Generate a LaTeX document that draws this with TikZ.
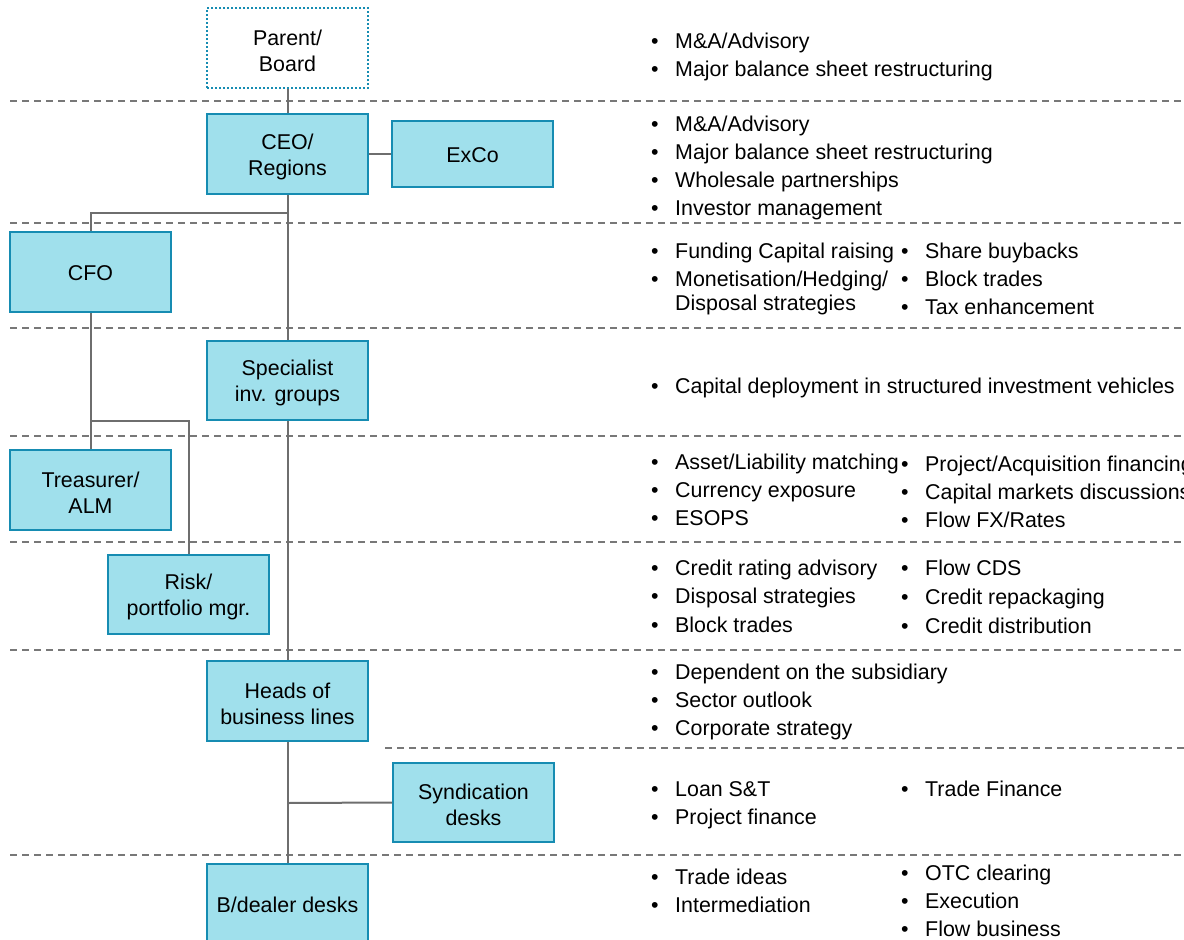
\documentclass[tikz,border=0pt]{standalone}
\usepackage{fontspec}
\setmainfont{Liberation Sans}
\definecolor{boxfill}{RGB}{160,224,236}
\definecolor{boxline}{RGB}{22,140,178}
\definecolor{conncol}{RGB}{110,110,110}
\definecolor{sepcol}{RGB}{120,120,120}
\newcommand{\itembul}{\llap{\textbullet\hspace{16.5pt}}}
\begin{document}
\begin{tikzpicture}[x=1pt,y=-1pt,
  box/.style={draw=boxline,fill=boxfill,line width=2pt,minimum width=161pt,minimum height=80pt,
    inner sep=0pt,align=center,font=\fontsize{21.4}{26}\selectfont},
  btxt/.style={inner sep=0pt,align=center,font=\fontsize{21.4}{26}\selectfont},
  pbox/.style={box,fill=white,dash pattern=on 2pt off 2pt},
  itm/.style={anchor=base west,inner sep=0pt,font=\fontsize{21.4}{28}\selectfont},
  conn/.style={draw=conncol,line width=2pt},
  sep/.style={draw=sepcol,line width=1.8pt,dash pattern=on 7pt off 5pt}]
\useasboundingbox (0,0) rectangle (1184,940);
\clip (0,0) rectangle (1184,940);

% separators
\foreach \yy in {101,223,328,436,542,650,855}{
  \draw[sep] (10,\yy) -- (1184,\yy);
}
\draw[sep] (385,748) -- (1184,748);

% boxes
\node[pbox] (parent) at (287.5,48) {};
\node[btxt] (parentt) at (287.5,50.5) {Parent/\\Board};
\node[box] (ceo) at (287.5,154) {};
\node[btxt] (ceot) at (287.5,156.5) {CEO/\\Regions};
\node[box,minimum height=66pt] (exco) at (472.5,154) {};
\node[btxt] (excot) at (472.5,155.5) {ExCo};
\node[box] (cfo) at (90.5,272) {};
\node[btxt] (cfot) at (90.5,273.5) {CFO};
\node[box,minimum height=79pt] (spec) at (287.5,380.5) {};
\node[btxt] (spect) at (287.5,383) {Specialist\\inv. groups};
\node[box] (treas) at (90.5,490) {};
\node[btxt] (treast) at (90.5,492.5) {Treasurer/\\ALM};
\node[box,minimum height=79pt] (risk) at (188.5,594.5) {};
\node[btxt] (riskt) at (188.5,597) {Risk/\\portfolio mgr.};
\node[box] (heads) at (287.5,701) {};
\node[btxt] (headst) at (287.5,703.5) {Heads of\\business lines};
\node[box,minimum height=79pt] (synd) at (473.5,802.5) {};
\node[btxt] (syndt) at (473.5,805) {Syndication\\desks};
\node[box] (bd) at (287.5,904) {};
\node[btxt] (bdt) at (287.5,905) {B/dealer desks};

% connectors
\coordinate (j1) at (287.5,212.5);
\coordinate (j2) at (90.5,421);
\coordinate (j3) at (287.5,803);
\draw[conn] (parent) -- (ceo);
\draw[conn] (ceo) -- (exco);
\draw[conn] (ceo) -- (spec);
\draw[conn] (j1) -| (cfo);
\draw[conn] (spec) -- (heads);
\draw[conn] (heads) -- (bd);
\draw[conn] (j3) -- (synd.west);
\draw[conn] (cfo) -- (treas);
\draw[conn] (j2) -| (risk);

% text rows
\node[itm] (a1) at (675,48.5) {\itembul M\&A/Advisory};
\node[itm] (a2) at (675,76.5) {\itembul Major balance sheet restructuring};

\node[itm] (b1) at (675,131.5) {\itembul M\&A/Advisory};
\node[itm] (b2) at (675,159.5) {\itembul Major balance sheet restructuring};
\node[itm] (b3) at (675,187.5) {\itembul Wholesale partnerships};
\node[itm] (b4) at (675,215.5) {\itembul Investor management};

\node[itm] (c1) at (675,258.5) {\itembul Funding Capital raising};
\node[itm] (c2) at (675,286.5) {\itembul Monetisation/Hedging/};
\node[itm] (c3) at (675,310.5) {Disposal strategies};
\node[itm] (c4) at (925,258.5) {\itembul Share buybacks};
\node[itm] (c5) at (925,286.5) {\itembul Block trades};
\node[itm] (c6) at (925,314.5) {\itembul Tax enhancement};

\node[itm] (d1) at (675,393.5) {\itembul Capital deployment in structured investment vehicles};

\node[itm] (e1) at (675,469.5) {\itembul Asset/Liability matching};
\node[itm] (e2) at (675,497.5) {\itembul Currency exposure};
\node[itm] (e3) at (675,525.5) {\itembul ESOPS};
\node[itm] (e4) at (925,471.5) {\itembul Project/Acquisition financing};
\node[itm] (e5) at (925,499.5) {\itembul Capital markets discussions};
\node[itm] (e6) at (925,527.5) {\itembul Flow FX/Rates};

\node[itm] (f1) at (675,575.5) {\itembul Credit rating advisory};
\node[itm] (f2) at (675,603.5) {\itembul Disposal strategies};
\node[itm] (f3) at (675,632) {\itembul Block trades};
\node[itm] (f4) at (925,575.5) {\itembul Flow CDS};
\node[itm] (f5) at (925,604.5) {\itembul Credit repackaging};
\node[itm] (f6) at (925,633.5) {\itembul Credit distribution};

\node[itm] (g1) at (675,679.5) {\itembul Dependent on the subsidiary};
\node[itm] (g2) at (675,707.5) {\itembul Sector outlook};
\node[itm] (g3) at (675,735.5) {\itembul Corporate strategy};

\node[itm] (h1) at (675,796.5) {\itembul Loan S\&T};
\node[itm] (h2) at (675,824.5) {\itembul Project finance};
\node[itm] (h3) at (925,796.5) {\itembul Trade Finance};

\node[itm] (i1) at (675,884.5) {\itembul Trade ideas};
\node[itm] (i2) at (675,912.5) {\itembul Intermediation};
\node[itm] (i3) at (925,880.5) {\itembul OTC clearing};
\node[itm] (i4) at (925,908.5) {\itembul Execution};
\node[itm] (i5) at (925,936.5) {\itembul Flow business};
\end{tikzpicture}
\end{document}
